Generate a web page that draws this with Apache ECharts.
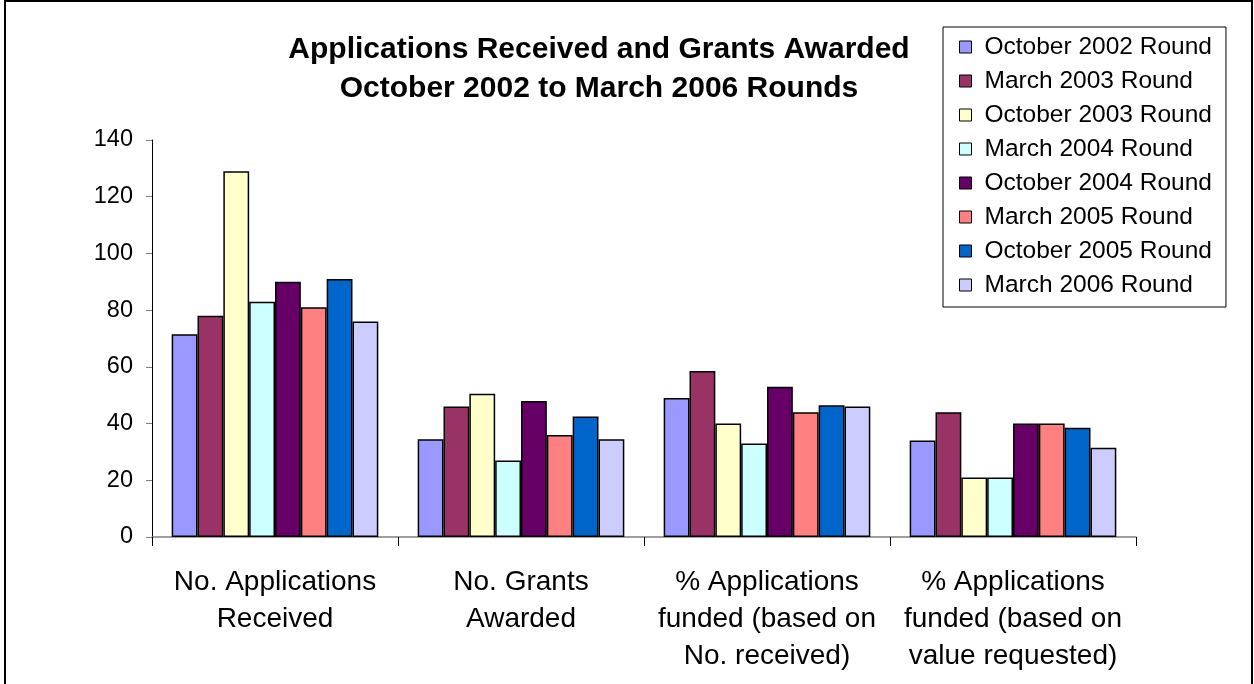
<!DOCTYPE html>
<html>
<head>
<meta charset="utf-8">
<title>Applications Received and Grants Awarded</title>
<script src="https://cdn.jsdelivr.net/npm/echarts@6/dist/echarts.min.js"></script>
<style>
  html, body { margin: 0; padding: 0; background: #fff; }
  #main { width: 1254px; height: 684px; }
</style>
</head>
<body>
<div id="main"></div>
<script>
// categories on the x axis (line breaks as in the original labels)
const categories = [
  'No. Applications\nReceived',
  'No. Grants\nAwarded',
  '% Applications\nfunded (based on\nNo. received)',
  '% Applications\nfunded (based on\nvalue requested)'
];

const roundNames = [
  'October 2002 Round', 'March 2003 Round', 'October 2003 Round', 'March 2004 Round',
  'October 2004 Round', 'March 2005 Round', 'October 2005 Round', 'March 2006 Round'
];

// one value per category, per round
const oct2002 = [71.5, 34.5, 49, 34];
const mar2003 = [78, 46, 58.5, 44];
const oct2003 = [129, 50.5, 40, 21];
const mar2004 = [83, 27, 33, 21];
const oct2004 = [90, 48, 53, 40];
const mar2005 = [81, 36, 44, 40];
const oct2005 = [91, 42.5, 46.5, 38.5];
const mar2006 = [76, 34.5, 46, 31.5];

const roundValues = [oct2002, mar2003, oct2003, mar2004, oct2004, mar2005, oct2005, mar2006];
const roundColors = ['#9999FF', '#993366', '#FFFFCC', '#CCFFFF', '#660066', '#FF8080', '#0066CC', '#CCCCFF'];

const yTicks = { min: 0, max: 140, interval: 20 };

const FONT = '"Liberation Sans", Arial, sans-serif';

let chart = echarts.init(document.getElementById('main'), null, { renderer: 'canvas' });

let series = roundNames.map((name, i) => ({
  name: name,
  type: 'bar',
  data: roundValues[i],
  barGap: '0%',
  barCategoryGap: '16%',
  itemStyle: { color: roundColors[i], borderColor: '#000', borderWidth: 1.5 },
  emphasis: { disabled: true }
}));

chart.setOption({
  animation: false,
  backgroundColor: '#fff',
  textStyle: { fontFamily: FONT },
  title: {
    text: 'Applications Received and Grants Awarded\nOctober 2002 to March 2006 Rounds',
    left: 594,
    top: 25,
    textAlign: 'center',
    textStyle: { fontFamily: FONT, fontSize: 30, fontWeight: 'bold', color: '#000', lineHeight: 39 }
  },
  legend: {
    orient: 'vertical',
    left: 943,
    top: 27,
    padding: [6, 14, 8, 16],
    itemWidth: 12,
    itemHeight: 12,
    itemGap: 6,
    borderColor: '#000',
    borderWidth: 1,
    backgroundColor: '#fff',
    icon: 'rect',
    selectedMode: false,
    itemStyle: { borderColor: '#000', borderWidth: 1 },
    textStyle: { fontFamily: FONT, fontSize: 24.5, lineHeight: 28, color: '#000', padding: [0, 0, 0, 8] },
    data: roundNames
  },
  grid: { left: 152, right: 118, top: 140, bottom: 147, containLabel: false },
  xAxis: {
    type: 'category',
    data: categories,
    axisLine: { lineStyle: { color: '#808080', width: 1.5 } },
    axisTick: { show: true, length: 9, inside: false, lineStyle: { color: '#000' } },
    axisLabel: { interval: 0, margin: 27, fontFamily: FONT, fontSize: 28, lineHeight: 37, color: '#000' }
  },
  yAxis: {
    type: 'value',
    min: yTicks.min,
    max: yTicks.max,
    interval: yTicks.interval,
    axisLine: { show: true, lineStyle: { color: '#000', width: 1 } },
    axisTick: { show: true, length: 6, lineStyle: { color: '#808080' } },
    splitLine: { show: false },
    axisLabel: { margin: 19, fontFamily: FONT, fontSize: 23.5, color: '#000' }
  },
  graphic: [{
    type: 'rect',
    shape: { x: 5, y: 1, width: 1247, height: 700 },
    style: { fill: 'none', stroke: '#000', lineWidth: 2 },
    silent: true,
    z: -1
  }],
  series: series
});
</script>
</body>
</html>
